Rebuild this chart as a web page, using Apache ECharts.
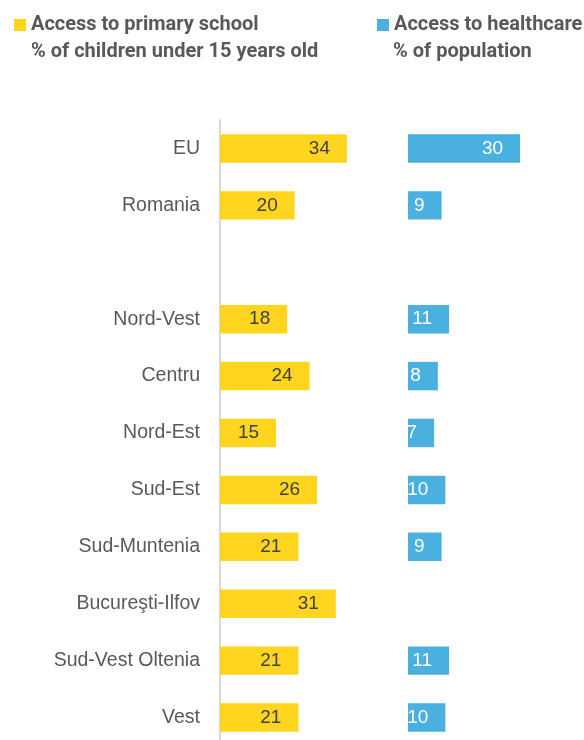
<!DOCTYPE html>
<html>
<head>
<meta charset="utf-8">
<script src="https://cdn.jsdelivr.net/npm/echarts@6/dist/echarts.min.js"></script>
<style>
  html, body { margin: 0; padding: 0; background: #ffffff; overflow: hidden; }
  /* the plot runs a few pixels past the bottom edge of the window */
  #chart { width: 584px; height: 746px; }
</style>
</head>
<body>
<div id="chart"></div>
<script>
// Regions of Romania compared with the EU average
const categories = ['EU', 'Romania', '', 'Nord-Vest', 'Centru', 'Nord-Est', 'Sud-Est',
  'Sud-Muntenia', 'Bucureşti-Ilfov', 'Sud-Vest Oltenia', 'Vest'];

// Access to primary school, % of children under 15 years old
const schoolValues = [34, 20, null, 18, 24, 15, 26, 21, 31, 21, 21];
// Access to healthcare, % of population
const healthValues = [30, 9, null, 11, 8, 7, 10, 9, null, 11, 10];

const schoolTitle = 'Access to primary school';
const schoolSubtitle = '% of children under 15 years old';
const healthTitle = 'Access to healthcare';
const healthSubtitle = '% of population';

const YELLOW = '#FFD520';
const BLUE = '#4AB0E0';
const GREY_TEXT = '#595959';
const HEAD_FONT = 'Roboto, "Liberation Sans", sans-serif';
const BODY_FONT = '"Liberation Sans", Arial, sans-serif';

const chart = echarts.init(document.getElementById('chart'), null, { renderer: 'canvas' });

const legendText = { fontFamily: HEAD_FONT, fontWeight: 'bold', fontSize: 20, color: GREY_TEXT };

chart.setOption({
  animation: false,
  backgroundColor: '#ffffff',
  legend: [
    {
      data: [schoolTitle], left: 14, top: 15, icon: 'rect',
      itemWidth: 12, itemHeight: 12, itemGap: 0, padding: 0,
      selectedMode: false, textStyle: legendText
    },
    {
      data: [healthTitle], left: 377, top: 15, icon: 'rect',
      itemWidth: 12, itemHeight: 12, itemGap: 0, padding: 0,
      selectedMode: false, textStyle: legendText
    }
  ],
  graphic: [
    {
      type: 'text', left: 31, top: 42,
      style: { text: schoolSubtitle, font: 'bold 20px ' + HEAD_FONT, fill: GREY_TEXT }
    },
    {
      type: 'text', left: 393, top: 42,
      style: { text: healthSubtitle, font: 'bold 20px ' + HEAD_FONT, fill: GREY_TEXT }
    }
  ],
  grid: [
    { left: 220, top: 120, width: 149.4, bottom: 0 },
    { left: 408, top: 120, width: 149.4, bottom: 0 }
  ],
  xAxis: [
    { type: 'value', gridIndex: 0, min: 0, max: 40, show: false },
    { type: 'value', gridIndex: 1, min: 0, max: 40, show: false }
  ],
  yAxis: [
    {
      type: 'category', gridIndex: 0, data: categories, inverse: true,
      axisLine: { show: true, lineStyle: { color: '#D9D9D9', width: 2 } },
      axisTick: { show: false },
      axisLabel: { color: GREY_TEXT, fontSize: 19.5, fontFamily: BODY_FONT, margin: 20 }
    },
    {
      type: 'category', gridIndex: 1, data: categories, inverse: true,
      axisLine: { show: false }, axisTick: { show: false }, axisLabel: { show: false }
    }
  ],
  series: [
    {
      name: schoolTitle, type: 'bar', xAxisIndex: 0, yAxisIndex: 0,
      data: schoolValues, barWidth: '50%',
      itemStyle: { color: YELLOW },
      label: {
        show: true, position: 'insideRight', distance: 17,
        color: '#404040', fontSize: 19, fontFamily: BODY_FONT
      }
    },
    {
      name: healthTitle, type: 'bar', xAxisIndex: 1, yAxisIndex: 1,
      data: healthValues, barWidth: '50%',
      itemStyle: { color: BLUE },
      label: {
        show: true, position: 'insideRight', distance: 17,
        color: '#ffffff', fontSize: 19, fontFamily: BODY_FONT
      }
    }
  ]
});
</script>
</body>
</html>
